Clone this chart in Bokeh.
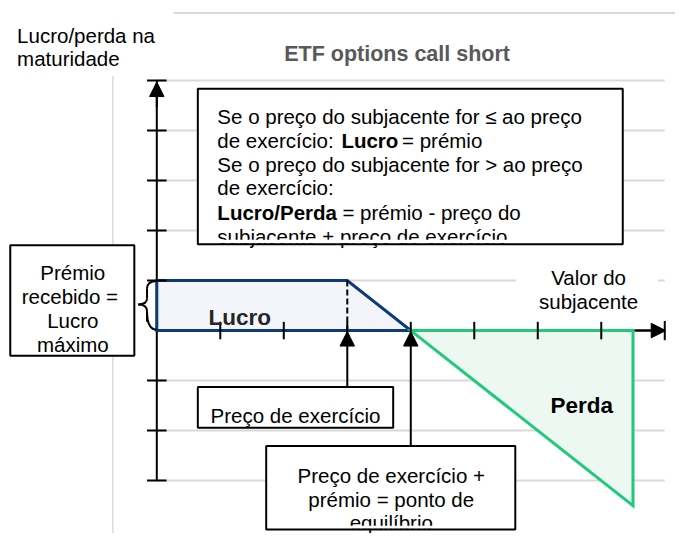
from bokeh.plotting import figure
from bokeh.models import Range1d, Arrow, NormalHead
from bokeh.core.properties import value
from bokeh.embed import file_html
from bokeh.resources import INLINE

# ---- diagram data (in diagram units) ----
premium = 1.0
strike = 3.0
breakeven = 4.0
s_max = 7.5
x_ticks = [1, 2, 3, 4, 5, 6, 7]
y_ticks = [-3, -2, -1, 1, 2, 3, 4, 5]
grid_levels = [-3, -2, -1, 1, 2, 3, 4, 5]
x_axis_end = 8
y_axis_min, y_axis_max = -3, 5
lucro_x = [0, 3, 4, 0]
lucro_y = [1, 1, 0, 0]
perda_x = [4, 7.5, 7.5]
perda_y = [0, 0, -3.5]

title_text = "ETF options call short"
y_label_lines = ["Lucro/perda na", "maturidade"]
x_label_lines = ["Valor do", "subjacente"]
left_box_lines = ["Prémio", "recebido  =", "Lucro", "máximo"]
strike_label = "Preço de exercício"
be_lines = ["Preço de exercício +", "prémio = ponto de", "equilíbrio"]

# ---- layout ----
W, H = 675, 533
REF_W, REF_H = 691, 549
PX_X, PX_Y = 65.0, 51.5
OX, OY = 160.0, 340.0


def X(px):
    return (px - OX) / PX_X


def Y(py):
    return (OY - py) / PX_Y


p = figure(width=W, height=H, output_backend="svg", toolbar_location=None,
           x_range=Range1d(X(0), X(REF_W)), y_range=Range1d(Y(REF_H), Y(0)),
           x_axis_location=None, y_axis_location=None, min_border=0,
           outline_line_color=None, background_fill_color="white",
           border_fill_color="white")
p.xgrid.visible = False
p.ygrid.visible = False

FONT = value("Liberation Sans")
GRID = "#d9d9d9"
FS = 20.5


def txt(px, py, s, size=FS, bold=False, align="left", color="black"):
    p.text(x=[X(px)], y=[Y(py)], text=[s], text_font=FONT,
           text_font_size=f"{size}px",
           text_font_style="bold" if bold else "normal",
           text_align=align, text_baseline="alphabetic", text_color=color)


def quad(x0, y0, x1, y1, fill="white", line=None, lw=2):
    p.quad(left=X(x0), right=X(x1), top=Y(y0), bottom=Y(y1),
           fill_color=fill, line_color=line, line_width=lw)


def head():
    return NormalHead(size=14.5, fill_color="black", line_color="black", line_width=1)


# gridlines
p.segment(x0=[0] * len(grid_levels), x1=[x_axis_end] * len(grid_levels),
          y0=grid_levels, y1=grid_levels, line_color=GRID, line_width=2)
p.segment(x0=[X(177)], x1=[X(700)], y0=[Y(13)], y1=[Y(13)], line_color=GRID, line_width=2)
p.segment(x0=[X(115)], x1=[X(115)], y0=[Y(78)], y1=[Y(560)], line_color=GRID, line_width=1.5)

# axes lines
p.segment(x0=[0], x1=[0], y0=[y_axis_min], y1=[y_axis_max], line_color="black", line_width=2)
p.segment(x0=[0], x1=[x_axis_end], y0=[0], y1=[0], line_color="black", line_width=2)

# areas
p.patch(lucro_x, lucro_y, fill_color="#f3f5fa", line_color="#0b3b78", line_width=3,
        line_join="miter")
p.patch(perda_x, perda_y, fill_color="#edf8f3", line_color="#1fcb7a", line_width=3,
        line_join="miter")
p.segment(x0=[strike], x1=[strike], y0=[premium], y1=[0], line_color="black",
          line_width=2, line_dash="6 3")

# ticks
tx = 10 / PX_X
ty = 9 / PX_Y
p.segment(x0=[-tx] * len(y_ticks), x1=[tx] * len(y_ticks), y0=y_ticks, y1=y_ticks,
          line_color="black", line_width=2)
p.segment(x0=x_ticks, x1=x_ticks, y0=[-ty] * len(x_ticks), y1=[ty] * len(x_ticks),
          line_color="black", line_width=2)
p.segment(x0=[x_axis_end], x1=[x_axis_end], y0=[-1.1 * ty], y1=[1.1 * ty],
          line_color="black", line_width=2)

# axis arrow heads
p.add_layout(Arrow(end=head(), x_start=0, y_start=Y(110), x_end=0, y_end=Y(84),
                   line_color="black", line_width=2))
p.add_layout(Arrow(end=head(), x_start=X(650), y_start=0, x_end=X(681), y_end=0,
                   line_color="black", line_width=2))

# titles
txt(406, 55, title_text, size=21.5, bold=True, align="center", color="#595959")
txt(17, 36, y_label_lines[0])
txt(17, 60, y_label_lines[1])

# x label
quad(528, 262, 673, 318)
txt(602, 285, x_label_lines[0], align="center")
txt(602, 310, x_label_lines[1], align="center")

# area labels
txt(213, 327, "Lucro", size=22.5, bold=True, color="#262626")
txt(563, 417, "Perda", size=22.5, bold=True, color="#000000")

# top explanation box
quad(202, 91, 637, 251)
txt(222, 119, "Se o preço do subjacente for ≤ ao preço")
txt(222, 144, "de exercício: ")
txt(349, 144, "Lucro", bold=True)
txt(411, 144, "= prémio")
txt(222, 168.5, "Se o preço do subjacente for > ao preço")
txt(222, 193, "de exercício:")
txt(222, 218, "Lucro/Perda", bold=True)
txt(350, 218, "= prémio - preço do")
txt(222, 243, "subjacente + preço de exercício")
quad(204, 246.5, 635, 250)
quad(202, 91, 637, 251, fill=None, line="black")

# left box
quad(10, 252, 137, 366, line="black")
ly = [280, 305, 330, 354]
for yy, s in zip(ly, left_box_lines):
    txt(74, yy, s, align="center")

# brace
p.quadratic(x0=[X(160), X(150), X(141), X(150)], y0=[Y(289), Y(307), Y(313), Y(320)],
            x1=[X(150), X(141), X(150), X(160)], y1=[Y(297), Y(313), Y(320), Y(339)],
            cx=[X(150), X(150), X(150), X(150)], cy=[Y(289), Y(313), Y(313), Y(339)],
            line_color="black", line_width=2)
p.segment(x0=[X(150), X(150)], x1=[X(150), X(150)], y0=[Y(297), Y(320)], y1=[Y(307), Y(331)],
          line_color="black", line_width=2)

# strike box + arrow
quad(202, 398, 402, 440, line="black")
txt(302, 427, strike_label, align="center")
p.add_layout(Arrow(end=head(), x_start=strike, y_start=Y(398), x_end=strike, y_end=Y(341),
                   line_color="black", line_width=2))

# breakeven box + arrow
quad(272, 459, 527, 545, fill="white")
for yy, s in zip([489, 514, 538], be_lines):
    txt(400, yy, s, align="center")
quad(274, 541, 525, 544)
quad(272, 459, 527, 545, fill=None, line="black")
p.add_layout(Arrow(end=head(), x_start=breakeven, y_start=Y(459), x_end=breakeven, y_end=Y(341),
                   line_color="black", line_width=2))

open("out.html", "w").write(file_html(p, INLINE))
